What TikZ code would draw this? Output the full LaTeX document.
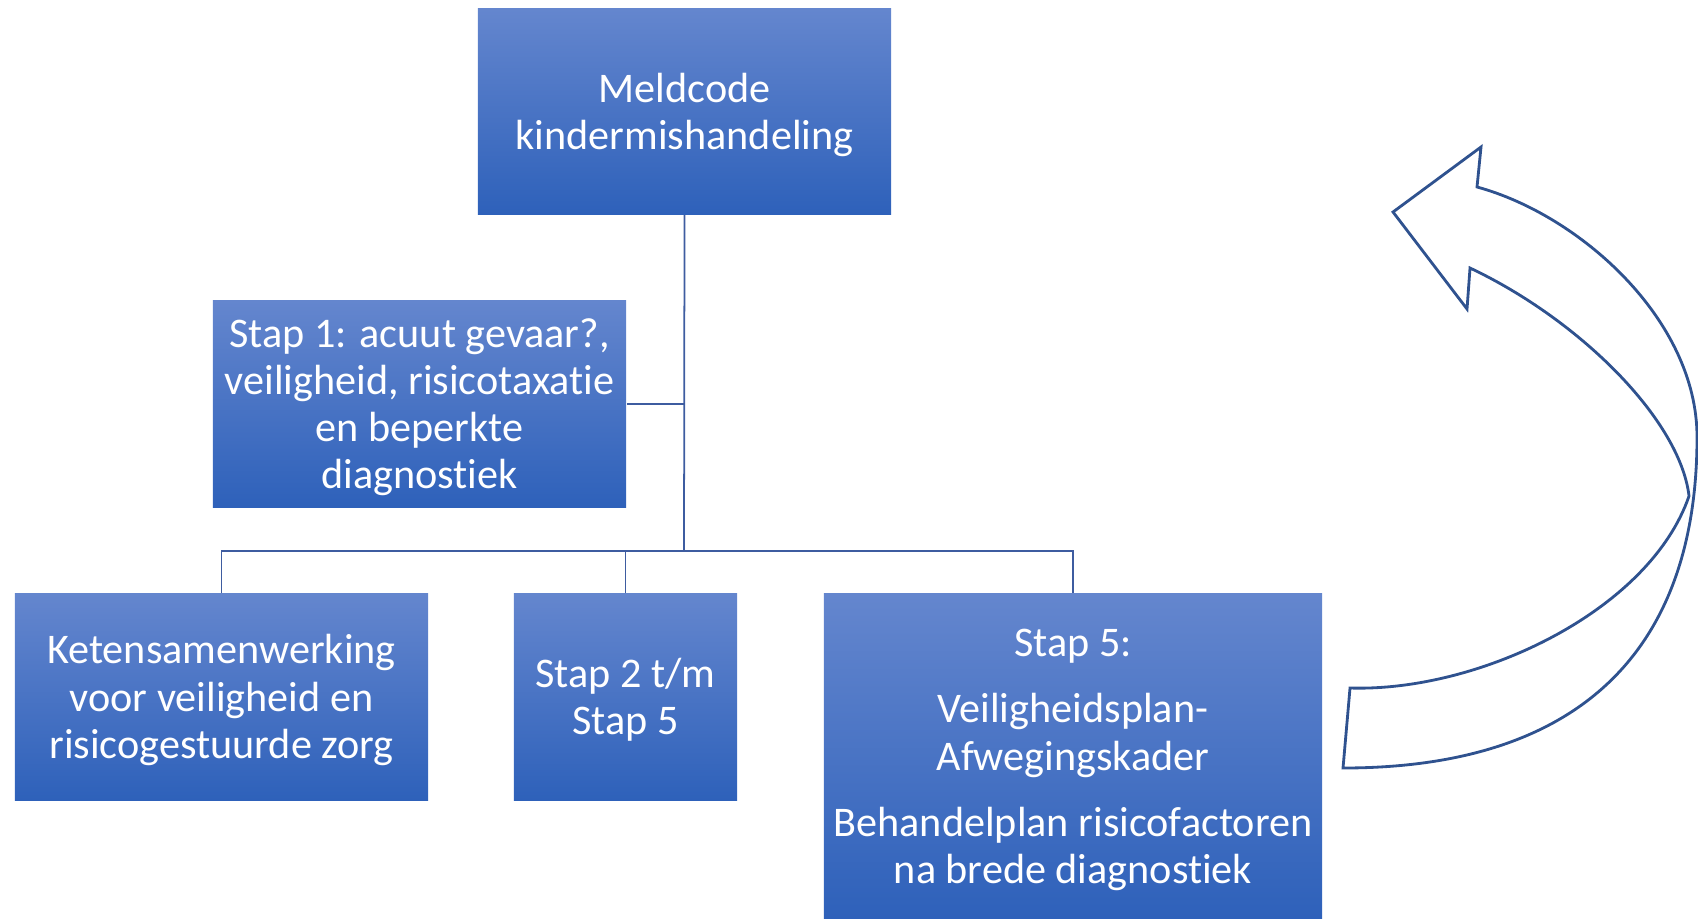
\documentclass[tikz,border=0pt]{standalone}
\usepackage{fontspec}
\setmainfont{Carlito}[Ligatures={NoCommon,NoRare}]
\usepackage{tikz}

\definecolor{boxtop}{RGB}{100,134,206}
\definecolor{boxbot}{RGB}{46,97,186}
\definecolor{linecol}{RGB}{62,92,160}
\definecolor{arrowcol}{RGB}{47,82,143}

\newcommand{\topstrut}{\rule{0pt}{10.6pt}}
\newcommand{\botstrut}{\rule[-2.6pt]{0pt}{2.6pt}}

\tikzset{
	stepbox/.style={top color=boxtop,bottom color=boxbot,draw=none,text=white,align=center,inner sep=0pt,font=\fontsize{12}{13.4}\selectfont},
	conn/.style={draw=linecol,line width=0.5pt}
}

\begin{document}
\begin{tikzpicture}[x=0.01cm,y=-0.01cm]
		\useasboundingbox (0,0) rectangle (1698,918);
	
		\node[stepbox,minimum width=4.13cm,minimum height=2.05cm] (meld) at (684.5,111.5) {\topstrut Meldcode\\kindermishandeling\botstrut};
		\node[stepbox,minimum width=4.13cm,minimum height=2.06cm] (stap1) at (419.5,404) {\topstrut Stap 1: acuut gevaar?,\\veiligheid, risicotaxatie\\en beperkte\\diagnostiek\botstrut};
		
		\node[stepbox,minimum width=4.13cm,minimum height=2.06cm] (keten) at (221.5,697) {\topstrut Ketensamenwerking\\voor veiligheid en\\risicogestuurde zorg\botstrut};
		\node[stepbox,minimum width=2.23cm,minimum height=2.06cm] (stap2) at (625.5,697) {\topstrut Stap 2 t/m\\Stap 5\botstrut};
		\node[stepbox,minimum width=4.98cm,minimum height=3.24cm] (stap5) at (1073,756) {\topstrut Stap 5:\\[5.4pt]Veiligheidsplan-\\Afwegingskader\\[5.4pt]Behandelplan risicofactoren\\na brede diagnostiek\botstrut};
		
		\coordinate (bus) at (684,551);
		
		\draw[conn] (meld.south) -- (bus);
		\draw[conn] (stap1.east) -- (stap1.east -| meld.south);
		\draw[conn] (keten.north) |- (bus);
		\draw[conn] (stap2.north) |- (bus);
		\draw[conn] (stap5.north) |- (bus);
		
		\draw[draw=arrowcol,line width=0.8pt,line join=miter] (1343,768) -- (1350,688)
			.. controls (1480,692) and (1650,610) .. (1689,496)
			.. controls (1680,420) and (1580,320) .. (1470,268)
			-- (1467,309) -- (1393,212) -- (1481,147) -- (1477,187)
			.. controls (1580,215) and (1697,320) .. (1697,437)
			.. controls (1697,650) and (1580,768) .. (1343,768) -- cycle;
	\end{tikzpicture}
\end{document}
